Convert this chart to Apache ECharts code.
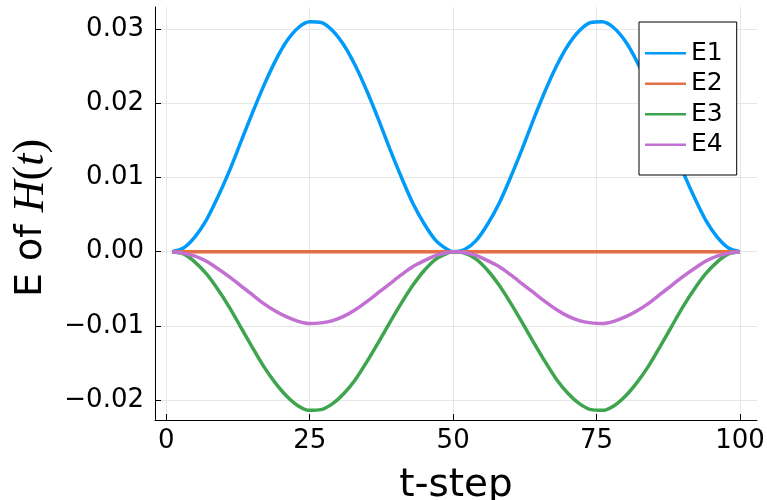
<!DOCTYPE html>
<html>
<head>
<meta charset="utf-8">
<script src="https://cdn.jsdelivr.net/npm/echarts@6/dist/echarts.min.js"></script>
<style>html,body{margin:0;padding:0;background:#fff}#c{width:767px;height:500px}</style>
</head>
<body>
<div id="c"></div>
<script>
var tSteps = [1,3,5,7,9,11,13,15,17,19,21,23,25,27,29,31,33,35,37,39,41,43,45,47,49,50,52,54,56,58,60,62,64,66,68,70,72,74,76,78,80,82,84,86,88,90,92,94,96,98,100];
var E1 = [0,0.0005,0.0020,0.0043,0.0074,0.0109,0.0148,0.0187,0.0224,0.0257,0.0284,0.0302,0.0310,0.0309,0.0298,0.0278,0.0250,0.0216,0.0178,0.0138,0.0100,0.0065,0.0037,0.0015,0.0003,0.0000,0.0003,0.0015,0.0037,0.0065,0.0100,0.0138,0.0178,0.0216,0.0250,0.0278,0.0298,0.0309,0.0310,0.0302,0.0284,0.0257,0.0224,0.0187,0.0148,0.0109,0.0074,0.0043,0.0020,0.0005,0];
var E2 = [0,0,0,0,0,0,0,0,0,0,0,0,0,0,0,0,0,0,0,0,0,0,0,0,0,0,0,0,0,0,0,0,0,0,0,0,0,0,0,0,0,0,0,0,0,0,0,0,0,0,0];
var E3 = [0,-0.0003,-0.0014,-0.0030,-0.0051,-0.0075,-0.0102,-0.0129,-0.0155,-0.0177,-0.0195,-0.0208,-0.0214,-0.0213,-0.0205,-0.0191,-0.0172,-0.0148,-0.0122,-0.0095,-0.0069,-0.0045,-0.0025,-0.0010,-0.0002,0,-0.0002,-0.0010,-0.0025,-0.0045,-0.0069,-0.0095,-0.0122,-0.0148,-0.0172,-0.0191,-0.0205,-0.0213,-0.0214,-0.0208,-0.0195,-0.0177,-0.0155,-0.0129,-0.0102,-0.0075,-0.0051,-0.0030,-0.0014,-0.0003,0];
var E4 = [0,-0.0002,-0.0006,-0.0013,-0.0023,-0.0034,-0.0046,-0.0058,-0.0070,-0.0080,-0.0088,-0.0094,-0.0097,-0.0096,-0.0093,-0.0087,-0.0078,-0.0067,-0.0055,-0.0043,-0.0031,-0.0020,-0.0012,-0.0005,-0.0001,0,-0.0001,-0.0005,-0.0012,-0.0020,-0.0031,-0.0043,-0.0055,-0.0067,-0.0078,-0.0087,-0.0093,-0.0096,-0.0097,-0.0094,-0.0088,-0.0080,-0.0070,-0.0058,-0.0046,-0.0034,-0.0023,-0.0013,-0.0006,-0.0002,0];
var seriesNames = ['E1','E2','E3','E4'];
var seriesColors = ['#009AF9','#E26F46','#3EA44E','#C271D2'];
var xTicks = [0,25,50,75,100];
var yTicks = [-0.02,-0.01,0,0.01,0.02,0.03];

function zip(ys){ return tSteps.map(function(t,i){ return [t, ys[i]]; }); }
var allData = [E1,E2,E3,E4];

var chart = echarts.init(document.getElementById('c'), null, {renderer:'canvas'});
var font = 'DejaVu Sans';
chart.setOption({
  animation: false,
  backgroundColor: '#fff',
  grid: {left:155, right:10, top:7, bottom:80, containLabel:false, outerBoundsMode:'none'},
  legend: {
    orient:'vertical', left:639, top:22,
    icon:'rect', itemWidth:41, itemHeight:2.5, itemGap:0,
    padding:[16,14,15,6],
    borderColor:'#000', borderWidth:1, backgroundColor:'#fff',
    textStyle:{fontFamily:font, fontSize:25, color:'#000', lineHeight:30.5},
    data: seriesNames
  },
  xAxis: {
    type:'value', min:-1.97, max:102.97,
    name:'t-step', nameLocation:'middle', nameGap:46,
    nameTextStyle:{fontFamily:font, fontSize:39, color:'#000'},
    axisLine:{show:true, onZero:false, lineStyle:{color:'#000', width:1}},
    axisTick:{show:true, inside:true, length:6, customValues:xTicks, lineStyle:{color:'#000'}},
    axisLabel:{customValues:xTicks, fontFamily:font, fontSize:26, color:'#000', margin:8},
    splitLine:{show:true, lineStyle:{color:'#e6e6e6', width:1}}
  },
  yAxis: {
    type:'value', min:-0.0227, max:0.0330,
    name:'{s|E of }{i|H}{u|(}{i|t}{u|)}', nameLocation:'middle', nameGap:100, nameRotate:90,
    nameTextStyle:{color:'#000', padding:[0,9,0,0], rich:{
      s:{fontFamily:font, fontSize:38, color:'#000'},
      i:{fontFamily:'Liberation Serif', fontStyle:'italic', fontSize:44, color:'#000'},
      u:{fontFamily:'Liberation Serif', fontSize:44, color:'#000'}
    }},
    axisLine:{show:true, onZero:false, lineStyle:{color:'#000', width:1}},
    axisTick:{show:true, inside:true, length:6, customValues:yTicks, lineStyle:{color:'#000'}},
    axisLabel:{customValues:yTicks, fontFamily:font, fontSize:26, color:'#000', margin:11,
      formatter:function(v){ return (v < -1e-9 ? '\u2212' : '') + Math.abs(v).toFixed(2); }},
    splitLine:{show:true, lineStyle:{color:'#e6e6e6', width:1}}
  },
  series: seriesNames.map(function(n,i){
    return {
      name:n, type:'line', data:zip(allData[i]), showSymbol:false, symbol:'none',
      smooth:0.3,
      lineStyle:{color:seriesColors[i], width:3.5}, itemStyle:{color:seriesColors[i]},
      z: 2+i
    };
  })
});
</script>
</body>
</html>
